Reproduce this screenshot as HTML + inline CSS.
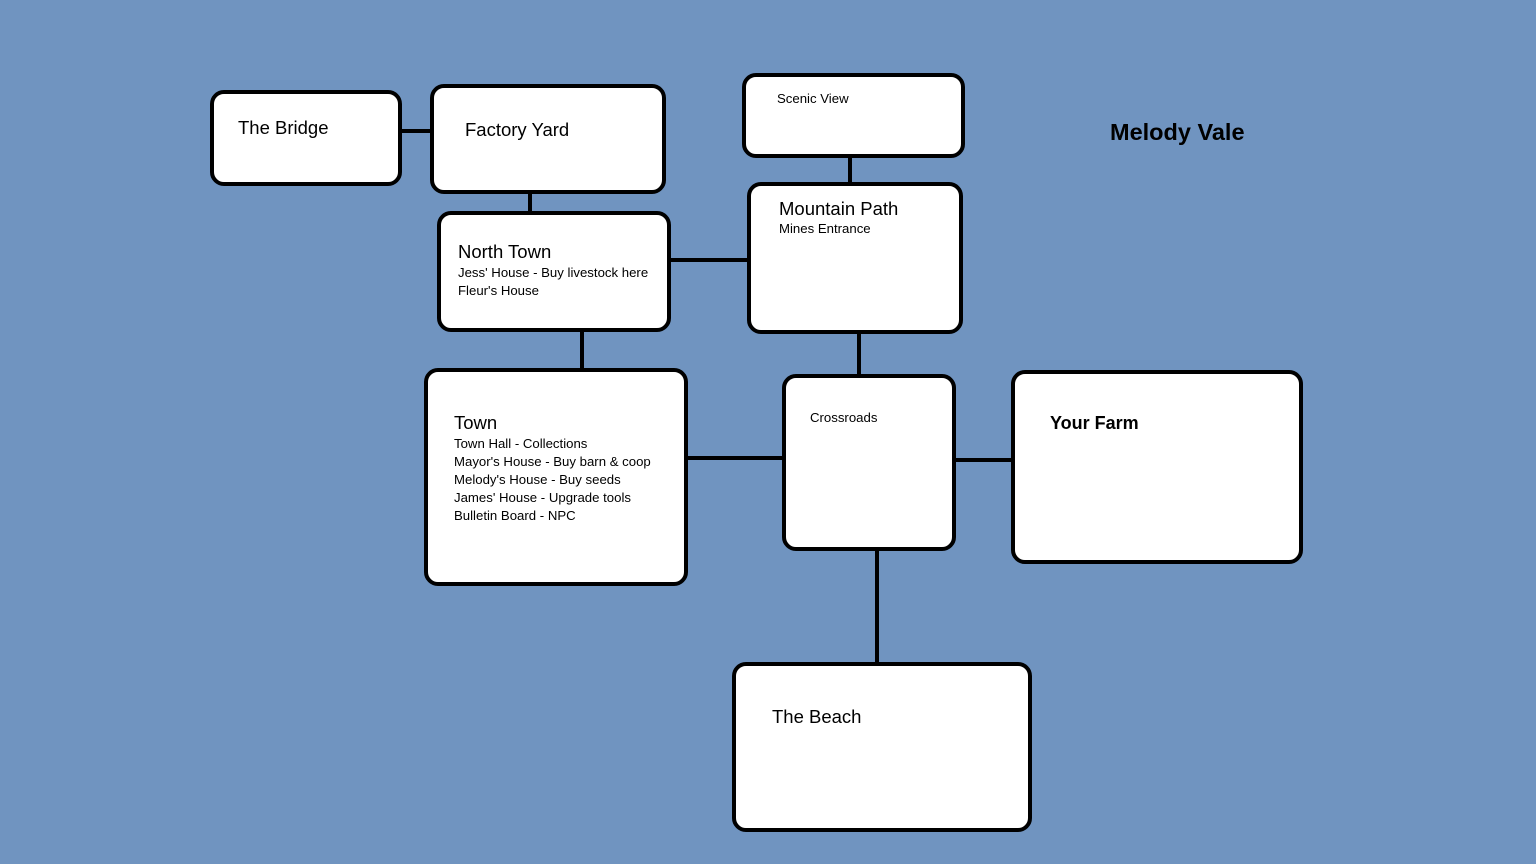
<!DOCTYPE html>
<html><head><style>
body{margin:0;width:1536px;height:864px;background:#7094C0;position:relative;overflow:hidden;font-family:"Liberation Sans",sans-serif;}
.b{position:absolute;box-sizing:border-box;border:4px solid #000;border-radius:14px;background:#fff;}
.l{position:absolute;background:#000;}
.t{position:absolute;white-space:nowrap;color:#000;}
.h{font-size:18.5px;line-height:20px;}
.s{font-size:13.2px;line-height:18px;}
</style></head><body>
<div class="l" style="left:400px;top:129px;width:32px;height:4px"></div>
<div class="l" style="left:528px;top:192px;width:4px;height:21px"></div>
<div class="l" style="left:848px;top:156px;width:4px;height:28px"></div>
<div class="l" style="left:669px;top:258px;width:80px;height:4px"></div>
<div class="l" style="left:580px;top:330px;width:4px;height:40px"></div>
<div class="l" style="left:857px;top:332px;width:4px;height:44px"></div>
<div class="l" style="left:686px;top:456px;width:98px;height:4px"></div>
<div class="l" style="left:954px;top:458px;width:59px;height:4px"></div>
<div class="l" style="left:875px;top:549px;width:4px;height:115px"></div>

<div class="b" style="left:210px;top:90px;width:192px;height:96px"></div>
<div class="b" style="left:430px;top:84px;width:236px;height:110px"></div>
<div class="b" style="left:742px;top:73px;width:223px;height:85px"></div>
<div class="b" style="left:747px;top:182px;width:216px;height:152px"></div>
<div class="b" style="left:437px;top:211px;width:234px;height:121px"></div>
<div class="b" style="left:424px;top:368px;width:264px;height:218px"></div>
<div class="b" style="left:782px;top:374px;width:174px;height:177px"></div>
<div class="b" style="left:1011px;top:370px;width:292px;height:194px"></div>
<div class="b" style="left:732px;top:662px;width:300px;height:170px"></div>

<div class="t h" style="left:238px;top:118px">The Bridge</div>
<div class="t h" style="left:465px;top:120px">Factory Yard</div>
<div class="t s" style="left:777px;top:90px">Scenic View</div>
<div class="t h" style="left:779px;top:199px">Mountain Path</div>
<div class="t s" style="left:779px;top:220px">Mines Entrance</div>
<div class="t h" style="left:458px;top:242px">North Town</div>
<div class="t s" style="left:458px;top:264px">Jess' House - Buy livestock here<br>Fleur's House</div>
<div class="t h" style="left:454px;top:413px">Town</div>
<div class="t s" style="left:454px;top:435px">Town Hall - Collections<br>Mayor's House - Buy barn &amp; coop<br>Melody's House - Buy seeds<br>James' House - Upgrade tools<br>Bulletin Board - NPC</div>
<div class="t s" style="left:810px;top:409px">Crossroads</div>
<div class="t h" style="left:1050px;top:413px;font-weight:bold;font-size:18px">Your Farm</div>
<div class="t h" style="left:772px;top:707px">The Beach</div>
<div class="t" style="left:1110px;top:120px;font-size:23.5px;font-weight:bold;line-height:24px">Melody Vale</div>
</body></html>
